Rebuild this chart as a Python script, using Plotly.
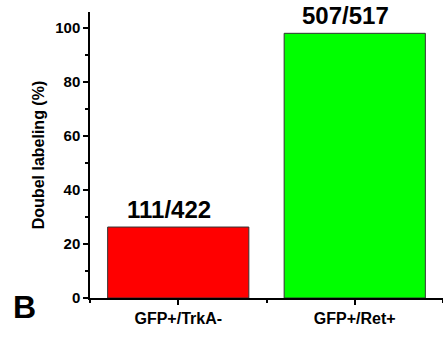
import plotly.graph_objects as go

categories = ["GFP+/TrkA-", "GFP+/Ret+"]
values = [26.3, 98.1]
count_labels = ["111/422", "507/517"]
colors = ["#FF0000", "#00FF00"]

FONT = "Liberation Sans, Arial, sans-serif"
xpos = list(range(len(categories)))

fig = go.Figure()
fig.add_trace(go.Bar(
    x=xpos, y=values, width=0.8,
    marker=dict(color=colors, line=dict(color="#333333", width=1)),
    showlegend=False, hoverinfo="skip",
))

for xi, v, lab in zip(xpos, values, count_labels):
    fig.add_annotation(x=xi, y=v, text=f"<b>{lab}</b>", showarrow=False,
                       xanchor="center", yanchor="bottom", xshift=-9, yshift=2,
                       font=dict(family=FONT, size=24, color="black"))

L, R, T, B = 90, 0, 12, 41
W, H = 443, 339
pw, ph = W - L - R, H - T - B
fig.add_annotation(x=(11 - L) / pw, y=(H - B - 327) / ph, xref="paper", yref="paper",
                   text="<b>B</b>", showarrow=False, xanchor="left", yanchor="bottom",
                   font=dict(family=FONT, size=32, color="black"))

fig.update_layout(
    width=W, height=H,
    margin=dict(l=L, r=R, t=T, b=B),
    plot_bgcolor="white", paper_bgcolor="white",
    bargap=0.2,
)

fig.update_xaxes(
    range=[-0.5, 1.5], tickmode="array", tickvals=xpos,
    ticktext=[f"<b>{c}</b>" for c in categories],
    ticks="outside", ticklen=5, tickwidth=1.5, tickcolor="black",
    showline=True, linecolor="black", linewidth=1.5, showgrid=False, zeroline=False,
    tickfont=dict(family=FONT, size=16, color="black"), automargin=False,
    minor=dict(tick0=-0.5, dtick=1, ticks="outside", ticklen=3, tickcolor="black", tickwidth=1.5, showgrid=False),
)
fig.update_yaxes(
    range=[0, 106], tick0=0, dtick=20,
    ticks="outside", ticklen=5, tickwidth=1.5, tickcolor="black",
    showline=True, linecolor="black", linewidth=1.5, showgrid=False, zeroline=False,
    tickfont=dict(family=FONT, size=15, color="black"), automargin=False,
    tickprefix="<b>", ticksuffix="</b>",
    minor=dict(dtick=10, ticks="outside", ticklen=3, tickcolor="black", tickwidth=1.5, showgrid=False),
    title=dict(text="<b>Doubel labeling (%)</b>", font=dict(family=FONT, size=16, color="black"), standoff=7),
)

fig.write_html("out.html", config={"displayModeBar": False},
               post_script="document.body.style.margin='0';document.body.style.overflow='hidden';")
